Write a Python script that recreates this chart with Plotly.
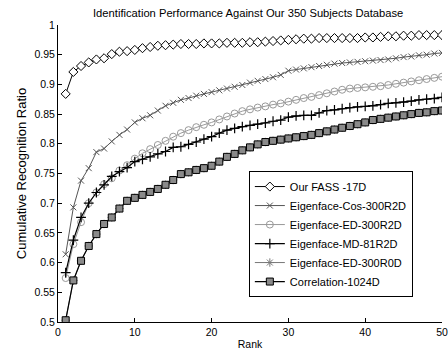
import plotly.graph_objects as go

ranks = list(range(1, 51))

fass = [0.884, 0.921, 0.931, 0.937, 0.942, 0.944, 0.951, 0.955, 0.956, 0.958,
        0.961, 0.963, 0.965, 0.966, 0.967, 0.968, 0.968, 0.968, 0.969, 0.969,
        0.969, 0.970, 0.970, 0.970, 0.971, 0.971, 0.972, 0.973, 0.974, 0.975,
        0.976, 0.977, 0.977, 0.978, 0.978, 0.978, 0.978, 0.978, 0.978, 0.979,
        0.979, 0.980, 0.981, 0.981, 0.982, 0.982, 0.983, 0.983, 0.983, 0.983]

cos300 = [0.614, 0.693, 0.738, 0.759, 0.786, 0.792, 0.804, 0.815, 0.824, 0.836,
          0.843, 0.848, 0.856, 0.864, 0.869, 0.874, 0.877, 0.881, 0.884, 0.887,
          0.890, 0.893, 0.896, 0.899, 0.903, 0.906, 0.909, 0.912, 0.916, 0.923,
          0.925, 0.927, 0.929, 0.931, 0.933, 0.935, 0.936, 0.937, 0.938, 0.939,
          0.940, 0.941, 0.942, 0.944, 0.946, 0.947, 0.949, 0.950, 0.952, 0.953]

ed300r2 = [0.574, 0.631, 0.668, 0.700, 0.718, 0.732, 0.742, 0.755, 0.764, 0.775,
           0.784, 0.791, 0.798, 0.805, 0.812, 0.818, 0.823, 0.828, 0.832, 0.836,
           0.841, 0.846, 0.851, 0.855, 0.858, 0.861, 0.863, 0.866, 0.868, 0.871,
           0.874, 0.877, 0.879, 0.882, 0.885, 0.888, 0.891, 0.893, 0.894, 0.895,
           0.896, 0.897, 0.899, 0.901, 0.903, 0.905, 0.907, 0.909, 0.911, 0.913]

md81r2 = [0.583, 0.638, 0.676, 0.700, 0.718, 0.731, 0.745, 0.753, 0.760, 0.770,
          0.774, 0.778, 0.783, 0.787, 0.794, 0.795, 0.799, 0.803, 0.808, 0.812,
          0.818, 0.823, 0.826, 0.829, 0.831, 0.833, 0.835, 0.838, 0.840, 0.845,
          0.847, 0.848, 0.848, 0.852, 0.856, 0.857, 0.859, 0.861, 0.862, 0.863,
          0.864, 0.866, 0.868, 0.869, 0.870, 0.872, 0.874, 0.875, 0.876, 0.878]

corr1024 = [0.503, 0.570, 0.603, 0.628, 0.648, 0.665, 0.676, 0.691, 0.704, 0.709,
            0.714, 0.719, 0.724, 0.731, 0.739, 0.749, 0.752, 0.756, 0.759, 0.763,
            0.770, 0.778, 0.783, 0.789, 0.794, 0.799, 0.803, 0.805, 0.807, 0.809,
            0.811, 0.813, 0.815, 0.818, 0.821, 0.824, 0.827, 0.830, 0.833, 0.836,
            0.840, 0.842, 0.844, 0.846, 0.848, 0.850, 0.852, 0.853, 0.855, 0.856]

# Eigenface-ED-300R0D lies under the Correlation curve in the reference
ed300r0 = list(corr1024)

names = ["Our FASS -17D", "Eigenface-Cos-300R2D", "Eigenface-ED-300R2D",
         "Eigenface-MD-81R2D", "Eigenface-ED-300R0D", "Correlation-1024D"]

y_ticks = [0.5, 0.55, 0.6, 0.65, 0.7, 0.75, 0.8, 0.85, 0.9, 0.95, 1.0]
y_tick_text = ["0.5", "0.55", "0.6", "0.65", "0.7", "0.75", "0.8", "0.85", "0.9", "0.95", "1"]
x_ticks = [0, 10, 20, 30, 40, 50]

fig = go.Figure()

fig.add_trace(go.Scatter(x=ranks, y=fass, name=names[0], mode="lines+markers",
                         line=dict(color="#000000", width=1),
                         marker=dict(symbol="diamond", size=7, color="white",
                                     line=dict(color="#000000", width=1))))
fig.add_trace(go.Scatter(x=ranks, y=cos300, name=names[1], mode="lines+markers",
                         line=dict(color="#555555", width=1),
                         marker=dict(symbol="x-thin", size=6,
                                     line=dict(color="#555555", width=1))))
fig.add_trace(go.Scatter(x=ranks, y=ed300r2, name=names[2], mode="lines+markers",
                         line=dict(color="#999999", width=1),
                         marker=dict(symbol="circle-open", size=7, color="#999999",
                                     line=dict(color="#999999", width=1))))
fig.add_trace(go.Scatter(x=ranks, y=md81r2, name=names[3], mode="lines+markers",
                         line=dict(color="#000000", width=1.2),
                         marker=dict(symbol="cross-thin", size=7,
                                     line=dict(color="#000000", width=1.2))))
fig.add_trace(go.Scatter(x=ranks, y=ed300r0, name=names[4], mode="lines+markers",
                         line=dict(color="#777777", width=1),
                         marker=dict(symbol="asterisk-open", size=7,
                                     line=dict(color="#777777", width=1))))
fig.add_trace(go.Scatter(x=ranks, y=corr1024, name=names[5], mode="lines+markers",
                         line=dict(color="#000000", width=1.2),
                         marker=dict(symbol="square", size=7, color="#8a8a8a",
                                     line=dict(color="#000000", width=1))))

fig.update_layout(
    width=448, height=356,
    margin=dict(l=58, r=6, t=25, b=34, autoexpand=False),
    paper_bgcolor="white", plot_bgcolor="white",
    font=dict(family="Arial, Liberation Sans, sans-serif", size=10.5, color="#000000"),
    title=dict(text="Identification Performance Against Our 350 Subjects Database",
               x=0.554, xanchor="center", y=0.963, yanchor="middle",
               font=dict(size=11.2)),
    showlegend=True,
    legend=dict(x=0.497, y=0.084, xanchor="left", yanchor="bottom",
                bgcolor="white", bordercolor="#000000", borderwidth=1,
                font=dict(size=11), tracegroupgap=0, itemwidth=30,
                traceorder="normal"),
    xaxis=dict(range=[0, 50], tickvals=x_ticks, showgrid=False, zeroline=False,
               showline=True, linecolor="#000000", linewidth=1, automargin=False,
               ticks="inside", ticklen=4, tickcolor="#000000",
               title=dict(text="Rank", font=dict(size=10.5), standoff=4)),
    yaxis=dict(range=[0.5, 1.0], tickvals=y_ticks, ticktext=y_tick_text,
               showgrid=False, zeroline=False, automargin=False,
               showline=True, linecolor="#000000", linewidth=1,
               ticks="inside", ticklen=4, tickcolor="#000000",
               title=dict(text="Cumulative Recognition Ratio", font=dict(size=13), standoff=4)),
)

fig.write_html("out.html",
               config={"displayModeBar": False},
               post_script="document.body.style.margin='0px';document.body.style.overflow='hidden';")
